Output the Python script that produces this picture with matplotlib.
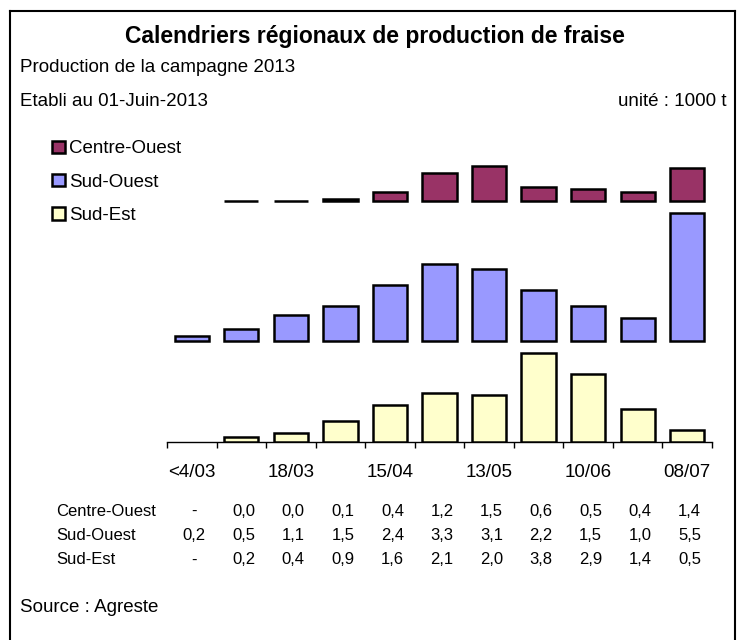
import numpy as np
import matplotlib
matplotlib.use("Agg")
from matplotlib import pyplot as plt
from matplotlib import transforms
from matplotlib.lines import Line2D
from matplotlib.patches import Patch

plt.rcParams['font.family'] = ['Liberation Sans', 'DejaVu Sans']

# data (1000 t), nan = "-"
periods = ["<4/03", "", "18/03", "", "15/04", "", "13/05", "", "10/06", "", "08/07"]
regions = ["Centre-Ouest", "Sud-Ouest", "Sud-Est"]
centre_ouest = [np.nan, 0.0, 0.0, 0.1, 0.4, 1.2, 1.5, 0.6, 0.5, 0.4, 1.4]
sud_ouest = [0.2, 0.5, 1.1, 1.5, 2.4, 3.3, 3.1, 2.2, 1.5, 1.0, 5.5]
sud_est = [np.nan, 0.2, 0.4, 0.9, 1.6, 2.1, 2.0, 3.8, 2.9, 1.4, 0.5]

colors = ["#993366", "#9999FF", "#FFFFCC"]
offsets = [10.34, 4.33, 0.0]  # baseline of each band

W, H = 741, 640
fig = plt.figure(figsize=(W / 100, H / 100), dpi=100)

def fx(px):
    return px / W

def fy(py):
    return 1 - py / H

# axes: x 167..712 px, y 442 (zero) up to 130 px
ax = fig.add_axes([fx(167), fy(442), fx(712) - fx(167), (442 - 130) / H])
scale = 23.3  # px per unit
ax.set_xlim(0, 11)
ax.set_ylim(0, (442 - 130) / scale)

x = np.arange(len(periods)) + 0.5
for vals, col, off in zip([centre_ouest, sud_ouest, sud_est], colors, offsets):
    v = np.array(vals, dtype=float)
    m = ~np.isnan(v)
    ax.bar(x[m], v[m], bottom=off, width=0.69, color=col,
           edgecolor="black", linewidth=1.8, zorder=3)

for s in ["top", "left", "right"]:
    ax.spines[s].set_visible(False)
ax.spines["bottom"].set_linewidth(1.0)
ax.set_yticks([])
ax.set_xticks(np.arange(0, 12))
ax.set_xticklabels([])
ax.tick_params(axis="x", which="major", direction="out", length=4, width=1.0)
ax.set_xticks(x, minor=True)
ax.set_xticklabels(periods, minor=True, fontsize=13.5)
ax.tick_params(axis="x", which="minor", length=0, pad=16)

# data table below the chart
trans = transforms.blended_transform_factory(ax.transData, fig.transFigure)
rows_y = [511, 536, 560]
for name, vals, ry in zip(regions, [centre_ouest, sud_ouest, sud_est], rows_y):
    fig.text(fx(56), fy(ry), name, fontsize=12, va="center", ha="left")
    for xi, v in zip(x, vals):
        lab = "-" if np.isnan(v) else f"{v:.1f}".replace(".", ",")
        ax.text(xi + 0.05, fy(ry), lab, transform=trans, fontsize=12,
                ha="center", va="center")

# titles
fig.text(fx(375), fy(37), "Calendriers régionaux de production de fraise",
         fontsize=16.5, fontweight="bold", ha="center", va="center")
fig.text(fx(20), fy(67), "Production de la campagne 2013", fontsize=13.5, va="center")
fig.text(fx(20), fy(101), "Etabli au 01-Juin-2013", fontsize=13.5, va="center")
fig.text(fx(727), fy(101), "unité : 1000 t", fontsize=13.5, va="center", ha="right")
fig.text(fx(20), fy(608), "Source : Agreste", fontsize=13.5, va="center")

# legend
handles = [Patch(facecolor=c, edgecolor="black", linewidth=1.8) for c in colors]
fig.legend(handles, regions, loc="upper left", bbox_to_anchor=(fx(43), fy(131)),
           frameon=False, fontsize=13.5, handlelength=0.65, handleheight=0.65,
           handletextpad=0.25, labelspacing=0.87, borderpad=0)

# outer border
lw = 1.5
fig.add_artist(Line2D([fx(10), fx(10)], [0, fy(11)], color="black", lw=lw))
fig.add_artist(Line2D([fx(10), fx(735)], [fy(11), fy(11)], color="black", lw=lw))
fig.add_artist(Line2D([fx(735), fx(735)], [fy(11), 0], color="black", lw=lw))

fig.savefig("out.png", dpi=100)
